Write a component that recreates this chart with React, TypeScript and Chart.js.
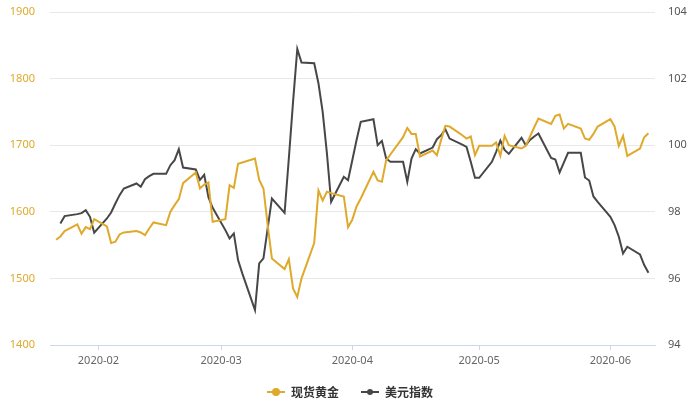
import React, { useEffect, useRef } from 'react';
import { Chart, registerables } from 'chart.js';

Chart.register(...registerables);

const seriesNames = ['现货黄金', '美元指数'];

const dates = [
  '2020-01-22', '2020-01-23', '2020-01-24', '2020-01-27', '2020-01-28', '2020-01-29', '2020-01-30', '2020-01-31',
  '2020-02-03', '2020-02-04', '2020-02-05', '2020-02-06', '2020-02-07', '2020-02-10', '2020-02-11', '2020-02-12',
  '2020-02-13', '2020-02-14', '2020-02-17', '2020-02-18', '2020-02-19', '2020-02-20', '2020-02-21', '2020-02-24',
  '2020-02-25', '2020-02-26', '2020-02-27', '2020-02-28',
  '2020-03-02', '2020-03-03', '2020-03-04', '2020-03-05', '2020-03-06', '2020-03-09', '2020-03-10', '2020-03-11',
  '2020-03-12', '2020-03-13', '2020-03-16', '2020-03-17', '2020-03-18', '2020-03-19', '2020-03-20', '2020-03-23',
  '2020-03-24', '2020-03-25', '2020-03-26', '2020-03-27', '2020-03-30', '2020-03-31',
  '2020-04-01', '2020-04-02', '2020-04-03', '2020-04-06', '2020-04-07', '2020-04-08', '2020-04-09', '2020-04-10',
  '2020-04-13', '2020-04-14', '2020-04-15', '2020-04-16', '2020-04-17', '2020-04-20', '2020-04-21', '2020-04-22',
  '2020-04-23', '2020-04-24', '2020-04-27', '2020-04-28', '2020-04-29', '2020-04-30',
  '2020-05-01', '2020-05-04', '2020-05-05', '2020-05-06', '2020-05-07', '2020-05-08', '2020-05-11', '2020-05-12',
  '2020-05-13', '2020-05-14', '2020-05-15', '2020-05-18', '2020-05-19', '2020-05-20', '2020-05-21', '2020-05-22',
  '2020-05-25', '2020-05-26', '2020-05-27', '2020-05-28', '2020-05-29',
  '2020-06-01', '2020-06-02', '2020-06-03', '2020-06-04', '2020-06-05', '2020-06-08', '2020-06-09', '2020-06-10',
];

const goldValues = [
  1558, 1563, 1571, 1581, 1567, 1577, 1574, 1589,
  1578, 1553, 1555, 1566, 1569, 1571, 1569, 1565,
  1575, 1584, 1580, 1600, 1610, 1619, 1643, 1659,
  1635, 1641, 1644, 1585,
  1589, 1640, 1636, 1672, 1674, 1680, 1648, 1635,
  1580, 1530, 1514, 1529, 1485, 1472, 1500, 1553,
  1632, 1617, 1630, 1628, 1623, 1577,
  1588, 1608, 1620, 1660, 1647, 1645, 1677, 1686,
  1712, 1726, 1717, 1717, 1683, 1692, 1685, 1708,
  1729, 1728, 1715, 1710, 1713, 1685,
  1699, 1699, 1704, 1684, 1714, 1700, 1695, 1699,
  1713, 1727, 1740, 1732, 1744, 1746, 1725, 1732,
  1725, 1710, 1708, 1717, 1728,
  1739, 1728, 1699, 1714, 1684, 1695, 1712, 1718,
];

const usdValues = [
  null, 97.65, 97.87, 97.93, 97.96, 98.05, 97.85, 97.37,
  97.8, 97.98, 98.25, 98.5, 98.7, 98.85, 98.75, 98.98,
  99.07, 99.14, 99.14, 99.4, 99.55, 99.88, 99.33, 99.27,
  98.96, 99.11, 98.44, 98.12,
  97.45, 97.2, 97.35, 96.55, 96.15, 95.05, 96.45, 96.6,
  97.5, 98.4, 97.97, 99.6, 101.3, 102.89, 102.48, 102.46,
  101.86, 101.0, 99.76, 98.3, 99.05, 98.95,
  99.55, 100.15, 100.7, 100.78, 100.0, 100.13, 99.6, 99.5,
  99.5, 98.9, 99.6, 99.88, 99.75, 99.93, 100.18, 100.3,
  100.48, 100.2, 100.02, 99.95, 99.5, 99.02,
  99.02, 99.5, 99.8, 100.14, 99.86, 99.74, 100.22, 100.0,
  100.16, 100.26, 100.35, 99.62, 99.57, 99.18, 99.48, 99.77,
  99.77, 99.03, 98.94, 98.46, 98.3,
  97.85, 97.6, 97.25, 96.75, 96.95, 96.72, 96.4, 96.17,
];

const monthTicks = ['2020-02-01', '2020-03-01', '2020-04-01', '2020-05-01', '2020-06-01'];
const xRange = ['2020-01-20', '2020-06-12'];
const leftAxis = { min: 1400, max: 1900, step: 100 };
const rightAxis = { min: 94, max: 104, step: 2 };

const GOLD = '#dfa92b';
const DARK = '#474747';
const FONT = "'Noto Sans', 'Noto Sans CJK SC', sans-serif";

const dayNum = (s: string) =>
  Date.UTC(+s.slice(0, 4), +s.slice(5, 7) - 1, +s.slice(8, 10)) / 86400000;

const fmtMonth = (v: number) => {
  const d = new Date(v * 86400000);
  return `${d.getUTCFullYear()}-${String(d.getUTCMonth() + 1).padStart(2, '0')}`;
};

const legendPlugin = {
  id: 'bottomLegend',
  afterDraw(chart: any) {
    const ctx = chart.ctx;
    const items = [
      { label: seriesNames[0], color: GOLD },
      { label: seriesNames[1], color: DARK },
    ];
    ctx.save();
    ctx.font = "bold 12px 'Noto Sans CJK SC', sans-serif";
    const markerW = 18;
    const gapText = 6;
    const gapItems = 22;
    const widths = items.map((it) => markerW + gapText + ctx.measureText(it.label).width);
    const total = widths.reduce((a, b) => a + b, 0) + gapItems * (items.length - 1);
    let x = 350 - total / 2;
    const y = 392;
    items.forEach((it, i) => {
      ctx.strokeStyle = it.color;
      ctx.lineWidth = 2;
      ctx.beginPath();
      ctx.moveTo(x, y);
      ctx.lineTo(x + markerW, y);
      ctx.stroke();
      ctx.fillStyle = it.color;
      ctx.beginPath();
      ctx.arc(x + markerW / 2, y, i === 0 ? 4 : 3, 0, Math.PI * 2);
      ctx.fill();
      ctx.fillStyle = '#333';
      ctx.textAlign = 'left';
      ctx.textBaseline = 'middle';
      ctx.fillText(it.label, x + markerW + gapText, y);
      x += widths[i] + gapItems;
    });
    ctx.restore();
  },
};

const fitY = (width: number) => (scale: any) => {
  scale.width = width;
  scale.paddingTop = 0;
  scale.paddingBottom = 0;
};

export default function App() {
  const ref = useRef<HTMLCanvasElement | null>(null);

  useEffect(() => {
    document.body.style.margin = '0';
    const canvas = ref.current;
    if (!canvas) return;
    const xs = dates.map(dayNum);
    const chart = new Chart(canvas, {
      type: 'line',
      data: {
        datasets: [
          {
            label: seriesNames[0],
            data: xs.map((x, i) => ({ x, y: goldValues[i] })),
            borderColor: GOLD,
            backgroundColor: GOLD,
            borderWidth: 2,
            pointRadius: 0,
            tension: 0,
            yAxisID: 'y',
          },
          {
            label: seriesNames[1],
            data: xs.map((x, i) => ({ x, y: usdValues[i] })),
            borderColor: DARK,
            backgroundColor: DARK,
            borderWidth: 2,
            pointRadius: 0,
            tension: 0,
            spanGaps: true,
            yAxisID: 'y1',
          },
        ],
      },
      options: {
        animation: false,
        responsive: false,
        layout: { padding: { top: 12, left: 0, right: 0, bottom: 0 } },
        plugins: { legend: { display: false }, tooltip: { enabled: false } },
        scales: {
          x: {
            type: 'linear',
            min: dayNum(xRange[0]) + 0.55,
            max: dayNum(xRange[1]) - 0.45,
            afterBuildTicks: (scale: any) => {
              scale.ticks = monthTicks.map((s) => ({ value: dayNum(s) }));
            },
            afterFit: (scale: any) => {
              scale.height = 55;
            },
            ticks: {
              autoSkip: false,
              maxRotation: 0,
              color: '#666',
              padding: 4,
              font: { size: 11, family: FONT },
              callback: (v: any) => fmtMonth(Number(v)),
            },
            grid: { drawOnChartArea: false, drawTicks: true, tickLength: 5, color: '#ccd6eb' },
            border: { display: true, color: '#ccd6eb' },
          },
          y: {
            position: 'left',
            min: leftAxis.min,
            max: leftAxis.max,
            afterFit: fitY(50),
            ticks: {
              stepSize: leftAxis.step,
              color: GOLD,
              padding: 15,
              font: { size: 11, family: FONT },
              callback: (v: any) => String(v),
            },
            grid: { color: '#e8e8e8', drawTicks: false },
            border: { display: false },
          },
          y1: {
            position: 'right',
            min: rightAxis.min,
            max: rightAxis.max,
            afterFit: fitY(45),
            ticks: {
              stepSize: rightAxis.step,
              color: '#555',
              padding: 13,
              font: { size: 11, family: FONT },
              callback: (v: any) => String(v),
            },
            grid: { drawOnChartArea: false, drawTicks: false },
            border: { display: false },
          },
        },
      },
      plugins: [legendPlugin],
    });
    return () => chart.destroy();
  }, []);

  return (
    <div style={{ width: 700, height: 400 }}>
      <canvas ref={ref} width={700} height={400} />
    </div>
  );
}
